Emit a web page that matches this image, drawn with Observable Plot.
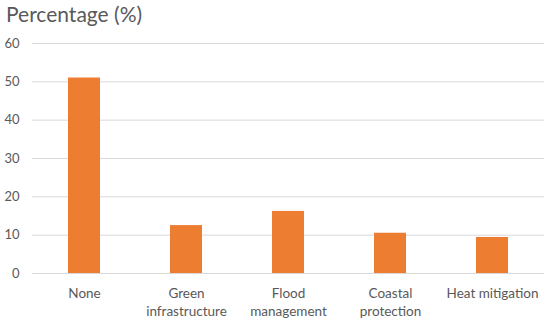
<!DOCTYPE html>
<html>
<head>
<meta charset="utf-8">
<script src="https://cdn.jsdelivr.net/npm/d3@7"></script>
<script src="https://cdn.jsdelivr.net/npm/@observablehq/plot@0.6"></script>
<style>
  html, body { margin: 0; padding: 0; background: #fff; }
  #wrap { position: relative; width: 550px; height: 321px; }
  #title { position: absolute; left: 6px; top: 1px; font-family: Lato, "Open Sans", sans-serif; font-size: 21px; color: #595959; }
  svg { display: block; }
</style>
</head>
<body>
<div id="wrap">
  <div id="title">Percentage (%)</div>
</div>
<script>
const categories = ["None", "Green\ninfrastructure", "Flood\nmanagement", "Coastal\nprotection", "Heat mitigation"];
const values = [51.0, 12.5, 16.2, 10.5, 9.4];
const yTicks = [0, 10, 20, 30, 40, 50, 60];

const data = categories.map((c, i) => ({category: c, value: values[i]}));

const chart = Plot.plot({
  width: 550,
  height: 321,
  marginLeft: 32,
  marginRight: 6,
  marginTop: 43,
  marginBottom: 48,
  style: {fontFamily: "Lato, 'Open Sans', sans-serif", fontSize: "13px", color: "#595959", background: "#fff"},
  x: {domain: categories, paddingInner: 0.69, paddingOuter: 0.345, label: null},
  y: {domain: [0, 60], label: null},
  marks: [
    Plot.gridY(yTicks, {stroke: "#D9D9D9", strokeOpacity: 1, strokeWidth: 1}),
    Plot.barY(data, {x: "category", y: "value", fill: "#ED7D31"}),
    Plot.axisY(yTicks, {tickSize: 0, tickPadding: 13, fontSize: 13, fill: "#595959", label: null}),
    Plot.axisX({tickSize: 0, tickPadding: 12, fontSize: 13.5, fill: "#595959", label: null, lineHeight: 1.3})
  ]
});
document.getElementById("wrap").appendChild(chart);
</script>
</body>
</html>
